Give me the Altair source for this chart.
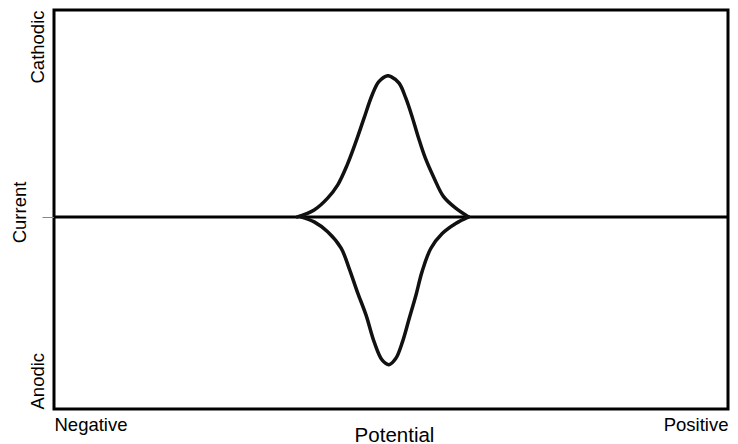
import altair as alt
import pandas as pd

# Cathodic (upper) peak: potential (0-100 scale) and current
pot_cath = [36.1, 38.6, 40.6, 42.1, 43.5, 44.8, 46.0, 47.2, 48.2, 49.5, 50.0,
            51.2, 52.2, 53.2, 54.1, 55.1, 56.4, 57.8, 59.6, 61.5]
cur_cath = [0.0, 0.047, 0.127, 0.217, 0.352, 0.509, 0.668, 0.825, 0.915, 0.955, 0.949,
            0.905, 0.803, 0.668, 0.532, 0.397, 0.262, 0.137, 0.059, 0.0]

# Anodic (lower) peak
pot_anod = [36.6, 38.6, 40.6, 42.6, 43.8, 45.0, 46.3, 47.5, 48.7, 49.7,
            50.7, 51.7, 52.7, 53.7, 54.6, 55.9, 57.6, 59.6, 61.5]
cur_anod = [0.0, -0.034, -0.101, -0.212, -0.350, -0.507, -0.665, -0.846, -0.970, -1.0,
            -0.959, -0.846, -0.688, -0.530, -0.372, -0.214, -0.113, -0.045, 0.0]

baseline_current = [0.0]

x_ticks = [0, 100]
x_tick_labels = ["Negative", "Positive"]
y_ticks = [-1.3, 0, 1.4]
y_tick_labels = ["Anodic", "", "Cathodic"]

df = pd.concat([
    pd.DataFrame({"potential": pot_cath, "current": cur_cath, "series": "Cathodic"}),
    pd.DataFrame({"potential": pot_anod, "current": cur_anod, "series": "Anodic"}),
], ignore_index=True)
df_base = pd.DataFrame({"current": baseline_current})

FONT = "Liberation Sans"

x_axis = alt.Axis(
    values=x_ticks,
    labelExpr=f"datum.value == {x_ticks[0]} ? '{x_tick_labels[0]}' : '{x_tick_labels[1]}'",
    labelAlign={"expr": f"datum.value == {x_ticks[0]} ? 'left' : 'right'"},
    labelBaseline="alphabetic",
    labelPadding=21,
    labelFontSize=18.5,
    labelFont=FONT,
    labelColor="black",
    ticks=False,
    domain=False,
    grid=False,
    title="Potential",
    titleFontSize=20.5,
    titleFont=FONT,
    titleFontWeight="normal",
    titleColor="black",
    titleX=340,
    titleY=32,
    titleBaseline="alphabetic",
    titleAlign="center",
)

y_axis = alt.Axis(
    values=y_ticks,
    labelExpr=(f"datum.value > 0 ? '{y_tick_labels[2]}' : "
               f"(datum.value < 0 ? '{y_tick_labels[0]}' : '{y_tick_labels[1]}')"),
    labelAngle=270,
    labelAlign={"expr": "datum.value > 0 ? 'right' : 'left'"},
    labelBaseline="alphabetic",
    labelPadding=-1,
    labelFontSize=18.5,
    labelFont=FONT,
    labelColor="black",
    tickSize=12,
    tickColor="#888888",
    tickWidth=1,
    tickOpacity={"expr": "datum.value == 0 ? 1 : 0"},
    domain=False,
    grid=False,
    title="Current",
    titleAngle=270,
    titleFontSize=18.5,
    titleFont=FONT,
    titleFontWeight="normal",
    titleColor="black",
    titleX=-29,
    titleY=202,
    titleBaseline="alphabetic",
    titleAlign="center",
)

x_scale = alt.Scale(domain=[0, 100], nice=False, zero=False)
y_scale = alt.Scale(domain=[-1.3, 1.4], nice=False, zero=False)

curves = alt.Chart(df).mark_line(
    color="#111111", strokeWidth=3.5, interpolate="catmull-rom", strokeCap="round"
).encode(
    x=alt.X("potential:Q", scale=x_scale, axis=x_axis),
    y=alt.Y("current:Q", scale=y_scale, axis=y_axis),
    detail="series:N",
)

base = alt.Chart(df_base).mark_rule(color="black", strokeWidth=3).encode(
    y=alt.Y("current:Q", scale=y_scale)
)

chart = alt.layer(base, curves).properties(
    width=674,
    height=399,
    autosize=alt.AutoSizeParams(type="none"),
    padding={"left": 46, "top": 2, "right": 2, "bottom": 35},
    background="white",
).configure_view(
    stroke="black", strokeWidth=3
)

chart.save("out.html", embed_options={"renderer": "svg", "actions": False})
